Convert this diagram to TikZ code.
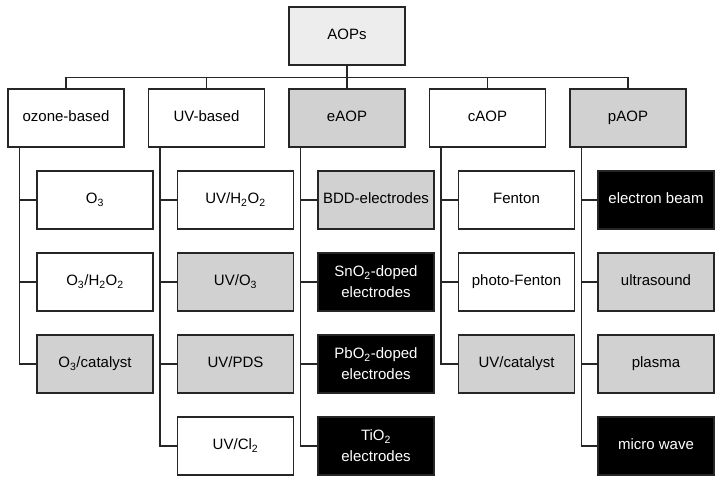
\documentclass[tikz,border=0pt]{standalone}
\usepackage{fontspec}
\setmainfont{Liberation Sans}
\begin{document}
\begin{tikzpicture}[x=1pt,y=-1pt,
  box/.style={draw=black!85, line width=1.3pt, minimum width=116pt, minimum height=58pt, inner sep=0pt, align=center, text height=11pt, text depth=3.5pt, font=\fontsize{15}{21}\selectfont},
  twoline/.style={text height=, text depth=},
  plainbox/.style={box, fill=white},
  litebox/.style={box, fill=black!7},
  graybox/.style={box, fill=black!18},
  blackbox/.style={box, fill=black, text=white},
  conn/.style={draw=black!85, line width=1.3pt}]
\path[use as bounding box] (0,0) rectangle (721,483);

\node[litebox] (aop) at (347,36) {AOPs};

\node[plainbox] (oz) at (66,118) {ozone-based};
\node[plainbox] (uv) at (206.5,118) {UV-based};
\node[graybox] (ea) at (347,118) {eAOP};
\node[plainbox] (ca) at (487.5,118) {cAOP};
\node[graybox] (pa) at (628,118) {pAOP};

% ozone column
\node[plainbox] (oz1) at (95,200) {O\textsubscript{3}};
\node[plainbox] (oz2) at (95,282) {O\textsubscript{3}/H\textsubscript{2}O\textsubscript{2}};
\node[graybox] (oz3) at (95,364) {O\textsubscript{3}/catalyst};
% UV column
\node[plainbox] (uv1) at (235.5,200) {UV/H\textsubscript{2}O\textsubscript{2}};
\node[graybox] (uv2) at (235.5,282) {UV/O\textsubscript{3}};
\node[graybox] (uv3) at (235.5,364) {UV/PDS};
\node[plainbox] (uv4) at (235.5,446) {UV/Cl\textsubscript{2}};
% eAOP column
\node[graybox] (ea1) at (376,200) {BDD-electrodes};
\node[blackbox, twoline] (ea2) at (376,282) {SnO\textsubscript{2}-doped\\electrodes};
\node[blackbox, twoline] (ea3) at (376,364) {PbO\textsubscript{2}-doped\\electrodes};
\node[blackbox, twoline] (ea4) at (376,446) {TiO\textsubscript{2}\\electrodes};
% cAOP column
\node[plainbox] (ca1) at (516.5,200) {Fenton};
\node[plainbox] (ca2) at (516.5,282) {photo-Fenton};
\node[graybox] (ca3) at (516.5,364) {UV/catalyst};
% pAOP column
\node[blackbox] (pa1) at (656,200) {electron beam};
\node[graybox] (pa2) at (656,282) {ultrasound};
\node[graybox] (pa3) at (656,364) {plasma};
\node[blackbox] (pa4) at (656,446) {micro wave};

% top bus
\draw[conn] (aop.south) -- ++(0,12) coordinate (bus);
\foreach \p in {oz,uv,ea,ca,pa} \draw[conn] (bus) -| (\p.north);

% column trunks
\foreach \c in {oz1,oz2,oz3} \draw[conn] ([xshift=12pt]oz.south west) |- (\c.west);
\foreach \c in {uv1,uv2,uv3,uv4} \draw[conn] ([xshift=12pt]uv.south west) |- (\c.west);
\foreach \c in {ea1,ea2,ea3,ea4} \draw[conn] ([xshift=12pt]ea.south west) |- (\c.west);
\foreach \c in {ca1,ca2,ca3} \draw[conn] ([xshift=12pt]ca.south west) |- (\c.west);
\foreach \c in {pa1,pa2,pa3,pa4} \draw[conn] ([xshift=12pt]pa.south west) |- (\c.west);
\end{tikzpicture}
\end{document}
